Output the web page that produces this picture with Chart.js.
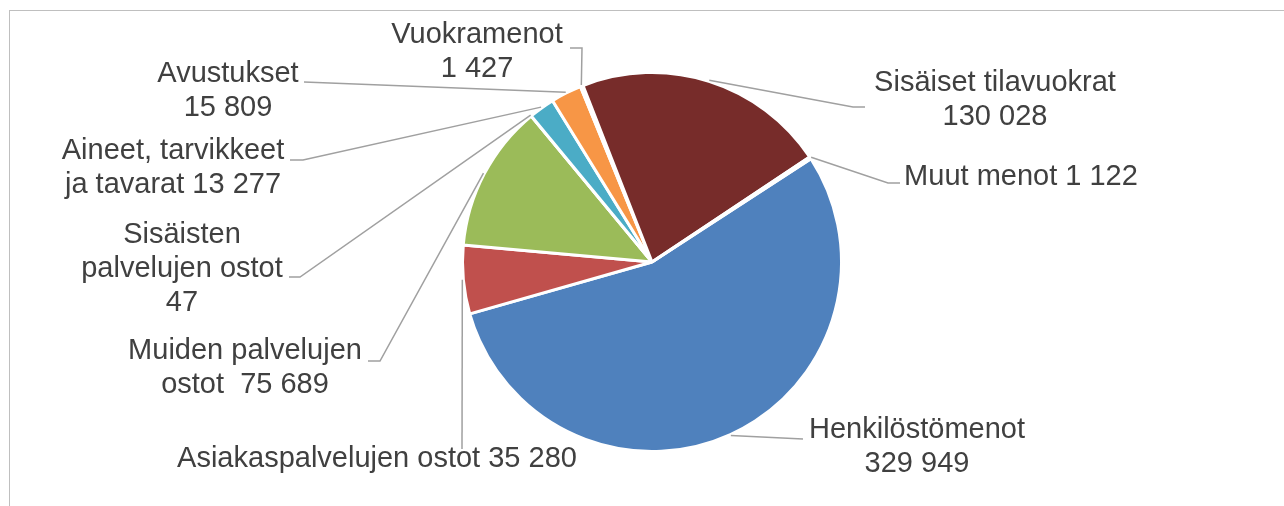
<!DOCTYPE html>
<html>
<head>
<meta charset="utf-8">
<script src="https://cdn.jsdelivr.net/npm/chart.js@4/dist/chart.umd.min.js"></script>
<style>
  html, body { margin: 0; padding: 0; background: #ffffff; }
  #wrap { position: relative; width: 1284px; height: 506px; overflow: hidden; }
</style>
</head>
<body>
<div id="wrap"><canvas id="c" width="1284" height="506"></canvas></div>
<script>
// ---- Data ----
const categories = [
  "Henkilöstömenot",
  "Asiakaspalvelujen ostot",
  "Muiden palvelujen ostot",
  "Sisäisten palvelujen ostot",
  "Aineet, tarvikkeet ja tavarat",
  "Avustukset",
  "Vuokramenot",
  "Sisäiset tilavuokrat",
  "Muut menot"
];
const values = [329949, 35280, 75689, 47, 13277, 15809, 1427, 130028, 1122];
// label text as shown (line breaks), {v} = formatted value
const labelTemplates = [
  "Henkilöstömenot\n{v}",
  "Asiakaspalvelujen ostot {v}",
  "Muiden palvelujen\nostot  {v}",
  "Sisäisten\npalvelujen ostot\n{v}",
  "Aineet, tarvikkeet\nja tavarat {v}",
  "Avustukset\n{v}",
  "Vuokramenot\n{v}",
  "Sisäiset tilavuokrat\n{v}",
  "Muut menot {v}"
];
const colors = ["#4F81BD", "#C0504D", "#9BBB59", "#8064A2", "#4BACC6", "#F79646", "#2C4D75", "#772C2A", "#5F7530"];

// ---- Label placement (center x, first baseline y, leader start, leader elbow) ----
const labelLayout = [
  { cx: 917,  by: 438, sx: 803, sy: 439, ex: 803, ey: 439 },
  { cx: 377,  by: 467, sx: 462, sy: 449, ex: 462, ey: 449 },
  { cx: 245,  by: 359, sx: 368, sy: 361, ex: 380, ey: 361 },
  { cx: 182,  by: 243, sx: 289, sy: 277, ex: 300, ey: 277 },
  { cx: 173,  by: 159, sx: 290, sy: 160, ex: 303, ey: 160 },
  { cx: 228,  by: 82,  sx: 304, sy: 82,  ex: 304, ey: 82 },
  { cx: 477,  by: 43,  sx: 570, sy: 48,  ex: 582, ey: 48 },
  { cx: 995,  by: 91,  sx: 865, sy: 107, ex: 853, ey: 107 },
  { cx: 1021, by: 185, sx: 900, sy: 183, ex: 888, ey: 183 }
];

function fmt(v) {
  return String(v).replace(/\B(?=(\d{3})+(?!\d))/g, " ");
}

const FONT = '29px "Liberation Sans", Arial, sans-serif';
const LINE_H = 34;

const borderPlugin = {
  id: 'frame',
  beforeDraw(chart) {
    const ctx = chart.ctx;
    ctx.save();
    ctx.fillStyle = '#ffffff';
    ctx.fillRect(0, 0, chart.width, chart.height);
    ctx.strokeStyle = '#BFBFBF';
    ctx.lineWidth = 1;
    ctx.strokeRect(9.5, 10.5, 2000, 2000);
    ctx.restore();
  }
};

const labelPlugin = {
  id: 'outLabels',
  afterDraw(chart) {
    const ctx = chart.ctx;
    const meta = chart.getDatasetMeta(0);
    ctx.save();
    meta.data.forEach((arc, i) => {
      const p = arc.getProps(['x', 'y', 'startAngle', 'endAngle', 'outerRadius'], true);
      const mid = (p.startAngle + p.endAngle) / 2;
      const r = p.outerRadius + 1;
      const px = p.x + Math.cos(mid) * r;
      const py = p.y + Math.sin(mid) * r;
      const L = labelLayout[i];
      // leader line
      ctx.strokeStyle = '#A0A0A0';
      ctx.lineWidth = 1.5;
      ctx.beginPath();
      ctx.moveTo(L.sx, L.sy);
      ctx.lineTo(L.ex, L.ey);
      ctx.lineTo(px, py);
      ctx.stroke();
      // text
      const text = labelTemplates[i].replace("{v}", fmt(values[i]));
      ctx.fillStyle = '#404040';
      ctx.font = FONT;
      ctx.textAlign = 'center';
      ctx.textBaseline = 'alphabetic';
      text.split("\n").forEach((line, k) => {
        ctx.fillText(line, L.cx, L.by + k * LINE_H);
      });
    });
    ctx.restore();
  }
};

new Chart(document.getElementById('c'), {
  type: 'pie',
  data: {
    labels: categories,
    datasets: [{
      data: values,
      backgroundColor: colors,
      borderColor: '#ffffff',
      borderWidth: 3
    }]
  },
  options: {
    responsive: false,
    devicePixelRatio: 1,
    animation: false,
    rotation: 57,
    radius: 189.5,
    layout: { padding: { left: 20, top: 18, right: 0, bottom: 0 } },
    plugins: {
      legend: { display: false },
      tooltip: { enabled: false }
    }
  },
  plugins: [borderPlugin, labelPlugin]
});
</script>
</body>
</html>
